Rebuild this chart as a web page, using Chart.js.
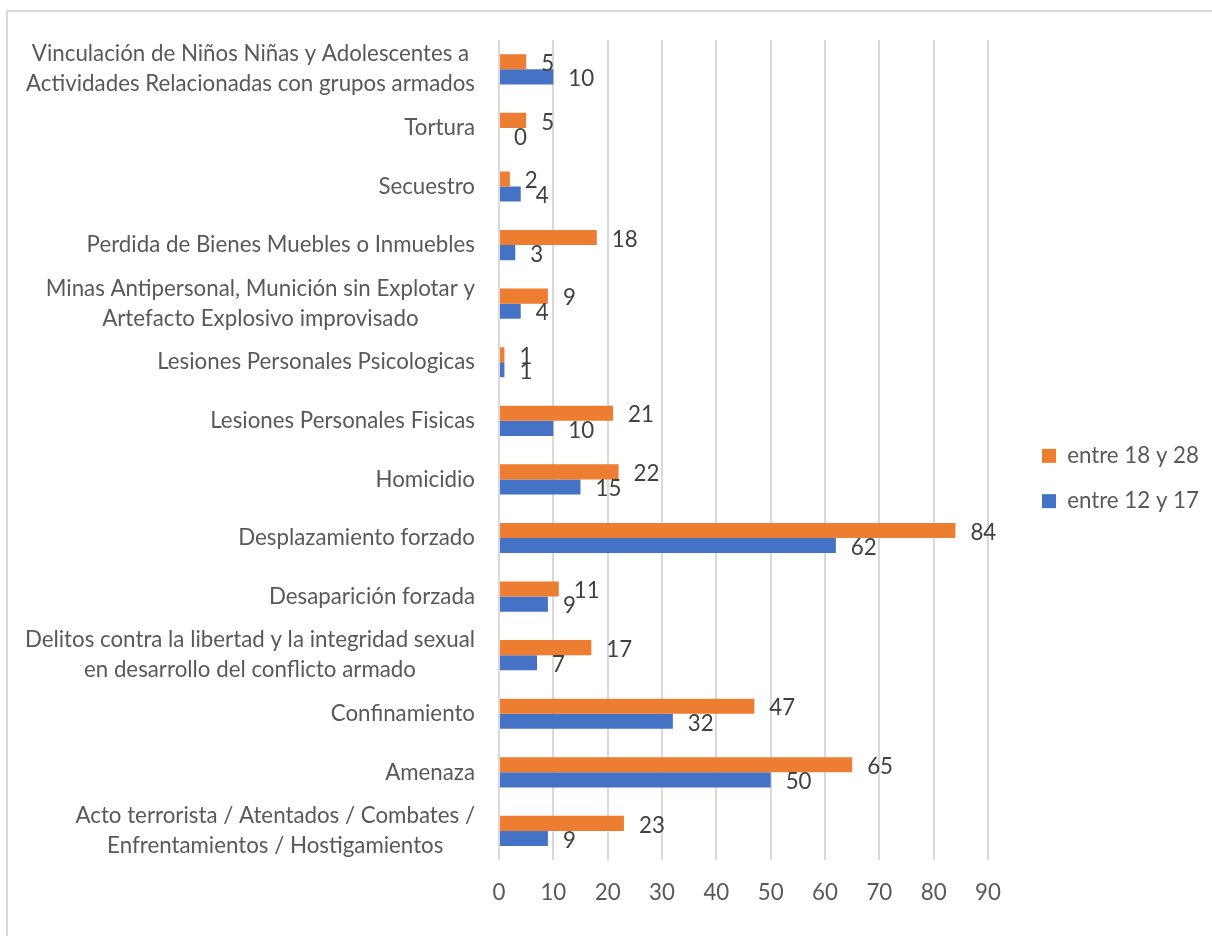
<!DOCTYPE html>
<html>
<head>
<meta charset="utf-8">
<script src="https://cdn.jsdelivr.net/npm/chart.js@4.4.1/dist/chart.umd.min.js"></script>
<style>
    html, body { margin: 0; padding: 0; background: #fff; overflow: hidden; }
    #frame { position: absolute; left: 6px; top: 10px; width: 1220px; height: 940px;
             border-left: 2px solid #d9d9d9; border-top: 2px solid #d9d9d9; }
    #wrap { position: absolute; left: 0; top: 0; width: 1212px; height: 936px; }
</style>
</head>
<body>
<div id="frame"></div>
<div id="wrap"><canvas id="chart"></canvas></div>
<script>
// categorias, de arriba hacia abajo
const categories = [
    ["Vinculación de Niños Niñas y Adolescentes a", "Actividades Relacionadas con grupos armados"],
    ["Tortura"],
    ["Secuestro"],
    ["Perdida de Bienes Muebles o Inmuebles"],
    ["Minas Antipersonal, Munición sin Explotar y", "Artefacto Explosivo improvisado"],
    ["Lesiones Personales Psicologicas"],
    ["Lesiones Personales Fisicas"],
    ["Homicidio"],
    ["Desplazamiento forzado"],
    ["Desaparición forzada"],
    ["Delitos contra la libertad y la integridad sexual", "en desarrollo del conflicto armado"],
    ["Confinamiento"],
    ["Amenaza"],
    ["Acto terrorista / Atentados / Combates /", "Enfrentamientos / Hostigamientos"]
];
const seriesNames = ["entre 18 y 28", "entre 12 y 17"];
const values18a28 = [5, 5, 2, 18, 9, 1, 21, 22, 84, 11, 17, 47, 65, 23];
const values12a17 = [10, 0, 4, 3, 4, 1, 10, 15, 62, 9, 7, 32, 50, 9];
const xTicks = [0, 10, 20, 30, 40, 50, 60, 70, 80, 90];

const FONT = "Lato";
const SIZE = 22.3;
const textGray = "#595959";

// etiquetas del eje y, lineas centradas entre si
const yLabels = {
    id: "yLabels",
    afterDraw(chart) {
        const ctx = chart.ctx;
        const y = chart.scales.y;
        const right = chart.chartArea.left - 24;
        ctx.save();
        ctx.font = SIZE + "px " + FONT;
        ctx.fillStyle = textGray;
        ctx.textAlign = "center";
        ctx.textBaseline = "middle";
        categories.forEach((lines, i) => {
            const w = Math.max(...lines.map(l => ctx.measureText(l).width));
            const cx = right - w / 2;
            const cy = y.getPixelForTick(i);
            lines.forEach((l, k) => {
                ctx.fillText(l, cx, cy + (k - (lines.length - 1) / 2) * 30);
            });
        });
        ctx.restore();
    }
};

// valores al final de cada barra
const valueLabels = {
    id: "valueLabels",
    afterDatasetsDraw(chart) {
        const ctx = chart.ctx;
        ctx.save();
        ctx.font = SIZE + "px " + FONT;
        ctx.fillStyle = "#404040";
        ctx.textAlign = "left";
        ctx.textBaseline = "middle";
        chart.data.datasets.forEach((ds, di) => {
            chart.getDatasetMeta(di).data.forEach((bar, i) => {
                ctx.fillText(String(ds.data[i]), bar.x + 15, bar.y + 2);
            });
        });
        ctx.restore();
    }
};

// leyenda a la derecha, ancho fijo
const legendPlace = {
    id: "legendPlace",
    beforeUpdate(chart) {
        const lg = chart.legend;
        if (lg && !lg._fixed) {
            const fit = lg.fit;
            lg.fit = function () { fit.call(this); this.width = 224; };
            lg._fixed = true;
        }
    },
    afterLayout(chart) {
        const lg = chart.legend;
        const w = lg.right - lg.left;
        lg.left = 1042 - 23;
        lg.right = lg.left + w;
        lg.top -= 4;
        lg.bottom -= 4;
    }
};

new Chart(document.getElementById("chart"), {
    type: "bar",
    data: {
        labels: categories,
        datasets: [
            { label: seriesNames[0], data: values18a28, backgroundColor: "#ED7D31" },
            { label: seriesNames[1], data: values12a17, backgroundColor: "#4472C4" }
        ]
    },
    options: {
        indexAxis: "y",
        responsive: true,
        maintainAspectRatio: false,
        animation: false,
        categoryPercentage: 0.515,
        barPercentage: 1,
        layout: { padding: { top: 40, bottom: 11, left: 0, right: 0 } },
        scales: {
            x: {
                min: 0, max: 90,
                afterBuildTicks: s => { s.ticks = xTicks.map(v => ({ value: v })); },
                grid: { color: "#d9d9d9", lineWidth: 2, drawTicks: false },
                border: { display: false },
                ticks: { color: textGray, font: { family: FONT, size: SIZE }, padding: 19 }
            },
            y: {
                grid: { display: false },
                border: { display: false },
                ticks: { display: false },
                afterFit: s => { s.width = 499; }
            }
        },
        plugins: {
            legend: {
                position: "right",
                labels: {
                    boxWidth: 14, boxHeight: 14, padding: 23,
                    color: textGray, font: { family: FONT, size: SIZE }
                }
            },
            tooltip: { enabled: false }
        }
    },
    plugins: [yLabels, valueLabels, legendPlace]
});
</script>
</body>
</html>
